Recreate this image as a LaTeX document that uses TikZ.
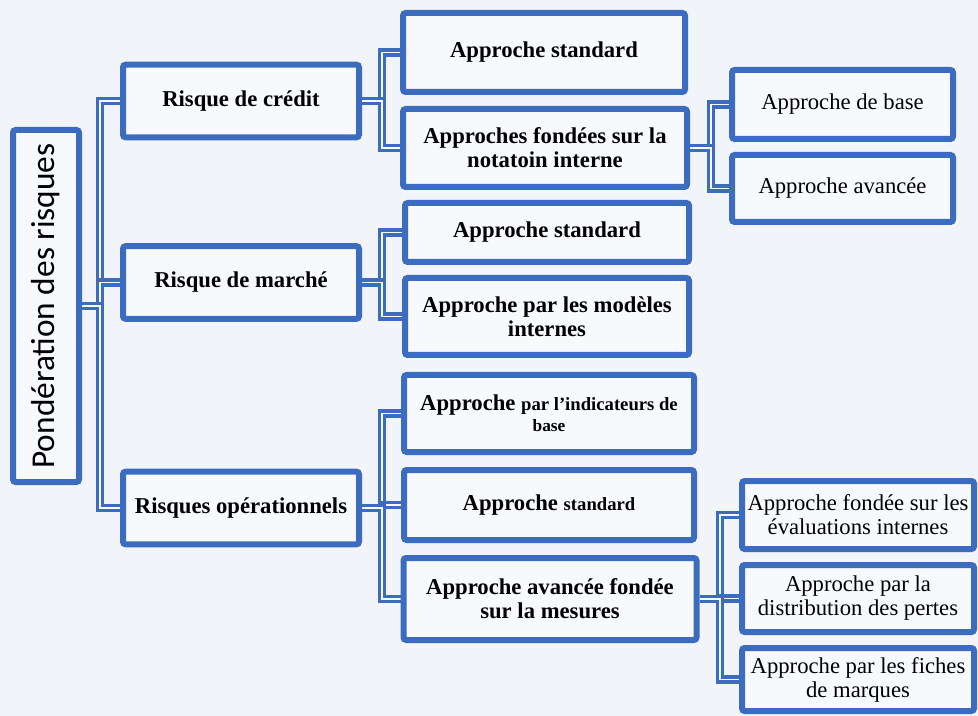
\documentclass[tikz,border=0pt]{standalone}
\usepackage{fontspec}
\setmainfont{Liberation Serif}
\newfontfamily\calfont{Carlito}
\usetikzlibrary{shadows}
\usepackage{xcolor}
\definecolor{cblue}{HTML}{3B6CC0}
\definecolor{cfill}{HTML}{F7F9FD}
\definecolor{cbg}  {HTML}{F1F4F9}
\pgfdeclarelayer{back}
\pgfsetlayers{back,main}

\begin{document}
\begin{tikzpicture}[x=0.75pt, y=-0.75pt,
  conn/.style  = {draw=cblue, line width=2.6pt, double=cfill, double distance=1.3pt},
  rbox/.style  = {rectangle, rounded corners=2pt, draw=cblue, line width=4.5pt,
                  fill=cfill, align=center, inner sep=2pt,
                  drop shadow={opacity=0.25, shadow xshift=1pt, shadow yshift=-1.5pt}},
  lone/.style  = {rbox, minimum width=177pt, minimum height=54.5pt,
                  font=\fontsize{17}{18}\selectfont\bfseries},
  ltwo/.style  = {rbox, font=\fontsize{17}{18}\selectfont\bfseries},
  lthr/.style  = {rbox, font=\fontsize{17}{18}\selectfont}
]

%% ── Canvas ────────────────────────────────────────────────────────────────
\useasboundingbox (0,0) rectangle (978,716);

%% ── Root (rotated: its south side faces right) ────────────────────────────
\node[rbox, rotate=90, minimum width=264pt, minimum height=49.5pt,
      font=\calfont\fontsize{25}{28}\selectfont] (root) at (46,306) {Pondération des risques};

%% ── Level 1 ───────────────────────────────────────────────────────────────
\node[lone] (credit) at (241,101)   {Risque de crédit};
\node[lone] (marche) at (241,282.5) {Risque de marché};
\node[lone] (oper)   at (241,508)   {Risques opérationnels};

%% ── Level 2 ───────────────────────────────────────────────────────────────
\node[ltwo, minimum width=211.5pt, minimum height=59.25pt] (cstd) at (544,52.5) {Approche standard};
\node[ltwo, minimum width=213pt,   minimum height=58.5pt]  (cnot) at (545,148)  {Approches fondées sur la\\notatoin interne};
\node[ltwo, minimum width=213pt,   minimum height=44.25pt] (mstd) at (547,232.5) {Approche standard};
\node[ltwo, minimum width=213pt,   minimum height=57.75pt] (mmod) at (547,316.5) {Approche par les modèles\\internes};
\node[ltwo, minimum width=217.5pt, minimum height=57.75pt, inner sep=0pt] (oind) at (549,413.5)
  {Approche {\fontsize{14}{15}\selectfont par l'indicateurs de}\\[-2pt]{\fontsize{13}{15}\selectfont base}};
\node[ltwo, minimum width=217.5pt, minimum height=52.5pt]  (ostd) at (549,505)
  {Approche {\fontsize{14}{15}\selectfont standard}};
\node[ltwo, minimum width=219.75pt, minimum height=61.5pt] (oava) at (550,599) {Approche avancée fondée\\sur la mesures};

%% ── Level 3 ───────────────────────────────────────────────────────────────
\node[lthr, minimum width=165.75pt, minimum height=51.75pt] (cbase) at (842.5,104.5) {Approche de base};
\node[lthr, minimum width=165.75pt, minimum height=50.25pt] (cavan) at (842.5,188.5) {Approche avancée};
\node[lthr, minimum width=174pt, minimum height=51pt,    inner sep=0pt] (oeval) at (858,515)   {Approche fondée sur les\\évaluations internes};
\node[lthr, minimum width=174pt, minimum height=50.25pt, inner sep=0pt] (odist) at (858,598.5) {Approche par la\\distribution des pertes};
\node[lthr, minimum width=174pt, minimum height=47.25pt, inner sep=0pt] (ofich) at (858,679.5) {Approche par les fiches\\de marques};

%% ── Connectors (behind the boxes) ─────────────────────────────────────────
\coordinate (b0) at (100,0);
\coordinate (b1) at (382,0);
\coordinate (b2) at (711,0);
\coordinate (b3) at (720,0);

\begin{pgfonlayer}{back}
  \fill[cbg] (0,0) rectangle (978,716);

  % root -> level 1
  \draw[conn] (root.south) -- (root.south -| b0) |- (credit.west);
  \draw[conn] (root.south) -- (root.south -| b0) |- (marche.west);
  \draw[conn] (root.south) -- (root.south -| b0) |- (oper.west);

  % crédit
  \draw[conn] (credit.east) -- (credit.east -| b1) |- (cstd.west);
  \draw[conn] (credit.east) -- (credit.east -| b1) |- (cnot.west);
  \draw[conn] (cnot.east) -- (cnot.east -| b2) |- (cbase.west);
  \draw[conn] (cnot.east) -- (cnot.east -| b2) |- (cavan.west);

  % marché
  \draw[conn] (marche.east) -- (marche.east -| b1) |- (mstd.west);
  \draw[conn] (marche.east) -- (marche.east -| b1) |- (mmod.west);

  % opérationnels
  \draw[conn] (oper.east) -- (oper.east -| b1) |- (oind.west);
  \draw[conn] (oper.east) -- (oper.east -| b1) |- (ostd.west);
  \draw[conn] (oper.east) -- (oper.east -| b1) |- (oava.west);
  \draw[conn] (oava.east) -- (oava.east -| b3) |- (oeval.west);
  \draw[conn] (oava.east) -- (oava.east -| b3) |- (odist.west);
  \draw[conn] (oava.east) -- (oava.east -| b3) |- (ofich.west);
\end{pgfonlayer}

\end{tikzpicture}
\end{document}
